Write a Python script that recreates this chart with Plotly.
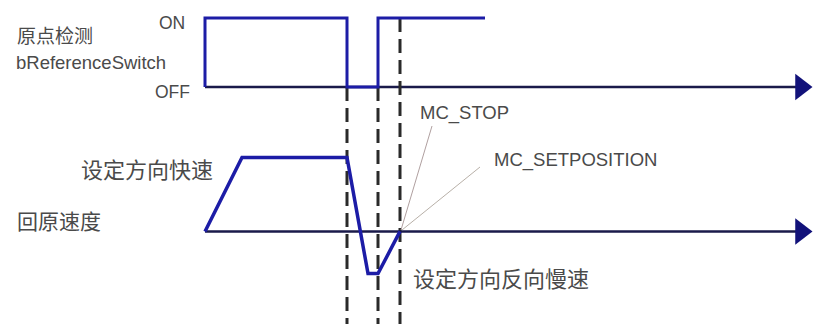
import plotly.graph_objects as go

# ---- data (time on a common horizontal scale) ----
switch_t = [205, 205, 347, 347, 378, 378, 485]
switch_level = [0, 1, 1, 0, 0, 1, 1]          # 0 = OFF, 1 = ON

speed_t = [205, 242, 347, 368, 378, 400]
speed_level = [0, 1, 1, -0.57, -0.57, 0]       # 1 = fast set direction, negative = slow reverse

axis_t = [205, 800]
event_t = [347, 378, 400]
event_start = [0, 0, 1]                         # switch level where each marker line starts

BLUE = "#1c1ca6"
AXIS = "#1a1a4a"
TXT = "#4a4a4a"

fig = go.Figure()

# switch axis (y) : OFF -> 87px, ON -> 18px
sw_range = [-3.435, 1.261]
# speed axis (y2) : 0 -> 232px, fast -> 158px
sp_range = [-1.251, 3.127]

# axes lines
fig.add_trace(go.Scatter(x=axis_t, y=[0, 0], mode="lines", line=dict(color=AXIS, width=2.5),
                         yaxis="y", hoverinfo="skip"))
fig.add_trace(go.Scatter(x=axis_t, y=[0, 0], mode="lines", line=dict(color=AXIS, width=2.5),
                         yaxis="y2", hoverinfo="skip"))
# arrow heads
fig.add_trace(go.Scatter(x=[801], y=[0], mode="markers", yaxis="y", cliponaxis=False,
                         marker=dict(symbol="triangle-right", size=23, color="#12127a"), hoverinfo="skip"))
fig.add_trace(go.Scatter(x=[801], y=[0], mode="markers", yaxis="y2", cliponaxis=False,
                         marker=dict(symbol="triangle-right", size=23, color="#12127a"), hoverinfo="skip"))

# dashed event lines
for t, s in zip(event_t, event_start):
    fig.add_trace(go.Scatter(x=[t, t], y=[s, sw_range[0]], mode="lines", yaxis="y",
                             line=dict(color="#2a2a2a", width=3, dash="14px,7px"), hoverinfo="skip"))

# signals
fig.add_trace(go.Scatter(x=switch_t, y=switch_level, mode="lines", yaxis="y",
                         line=dict(color=BLUE, width=3), hoverinfo="skip"))
fig.add_trace(go.Scatter(x=speed_t, y=speed_level, mode="lines", yaxis="y2",
                         line=dict(color=BLUE, width=3.5), hoverinfo="skip"))

# leader lines (pixel axis y3)
fig.add_trace(go.Scatter(x=[432, 401], y=[126, 230], mode="lines", yaxis="y3",
                         line=dict(color="#b0a0a0", width=1), hoverinfo="skip"))
fig.add_trace(go.Scatter(x=[480, 402], y=[167, 230], mode="lines", yaxis="y3",
                         line=dict(color="#b8b0a8", width=1), hoverinfo="skip"))

labels = [
    ("原点检测", 15, 34, "left", 19, "Noto Sans CJK SC"),
    ("bReferenceSwitch", 14, 62, "left", 18.5, "Liberation Sans"),
    ("ON", 172, 23, "center", 17.5, "Liberation Sans"),
    ("OFF", 172, 92, "center", 17.5, "Liberation Sans"),
    ("设定方向快速", 79, 168, "left", 22, "Noto Sans CJK SC"),
    ("回原速度", 15, 220, "left", 21, "Noto Sans CJK SC"),
    ("设定方向反向慢速", 411, 277, "left", 22, "Noto Sans CJK SC"),
    ("MC_STOP", 418, 113, "left", 18.5, "Liberation Sans"),
    ("MC_SETPOSITION", 492, 160, "left", 18.5, "Liberation Sans"),
]
for text, x, y, anchor, size, fam in labels:
    fig.add_annotation(text=text, x=x, y=y, xref="x", yref="y3", xanchor=anchor, yanchor="middle",
                       showarrow=False, font=dict(size=size, color=TXT, family=fam))

hidden = dict(visible=False, showgrid=False, zeroline=False, fixedrange=True)
fig.update_layout(
    width=813, height=324, margin=dict(l=0, r=0, t=0, b=0),
    paper_bgcolor="white", plot_bgcolor="white", showlegend=False,
    xaxis=dict(range=[0, 813], **hidden),
    yaxis=dict(range=sw_range, **hidden),
    yaxis2=dict(range=sp_range, overlaying="y", **hidden),
    yaxis3=dict(range=[324, 0], overlaying="y", **hidden),
)
fig.write_html("out.html", config={"displayModeBar": False},
               post_script="document.body.style.margin='0';document.body.style.overflow='hidden';")
